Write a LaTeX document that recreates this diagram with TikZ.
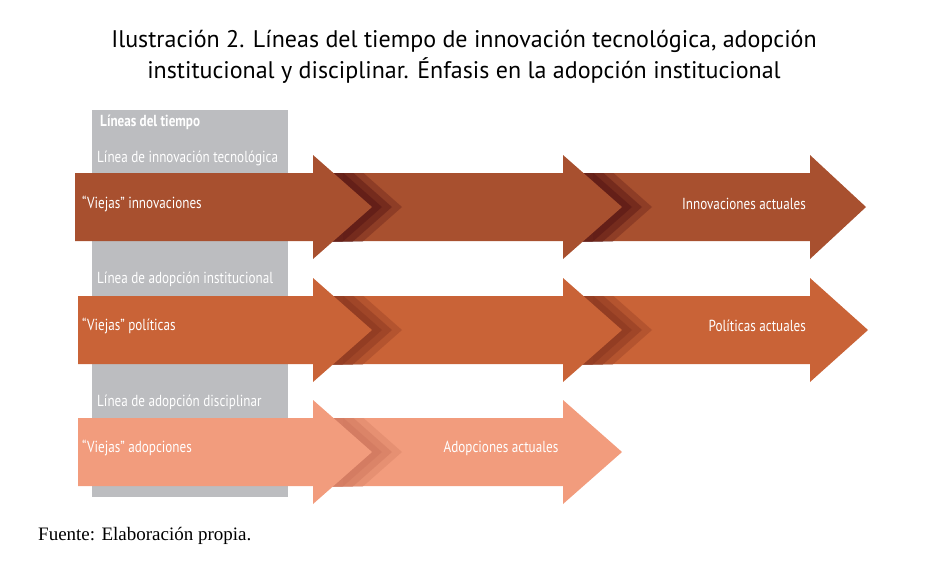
\documentclass[tikz,border=0pt]{standalone}
\usepackage{fontspec}
\setmainfont{PT Sans}
\newfontfamily\cond[FakeStretch=0.82]{PT Sans}
\newfontfamily\serifft{Liberation Serif}
\definecolor{cA}{HTML}{A8502F}
\definecolor{cAd}{HTML}{5E1B16}
\definecolor{cB}{HTML}{C96337}
\definecolor{cBd}{HTML}{8E3A22}
\definecolor{cC}{HTML}{F29C7D}
\definecolor{cCd}{HTML}{D27A60}
\definecolor{gr}{HTML}{BCBDC0}
\tikzset{lbl/.style={font=\cond\fontsize{16}{18}\selectfont, text=white, inner sep=0pt},
 glbl/.style={lbl, anchor=west}}
\newcommand\arr[6]{% x0, hx, tip, yc, color, name
 \fill[#5] (#1,#4-34) -- (#2,#4-34) -- (#2,#4-52) -- (#3,#4) -- (#2,#4+52) -- (#2,#4+34) -- (#1,#4+34) -- cycle;}
\newcommand\shad[4]{% hx, tip, yc, color
 \begin{scope}
 \clip (#1,#3-34) rectangle (#2+60,#3+34);
 \foreach \d/\o in {30/0.35,20/0.5,10/0.7}{
 \fill[#4, opacity=\o] (#1+\d,#3-52) -- (#2+\d,#3) -- (#1+\d,#3+52) -- cycle;}
 \end{scope}}
\begin{document}
\begin{tikzpicture}[x=1pt,y=-1pt]
\useasboundingbox (0,0) rectangle (928,563);
\node (title) at (464,57) [align=center, font=\fontsize{24}{31}\selectfont] {Ilustración 2. Líneas del tiempo de innovación tecnológica, adopción\\institucional y disciplinar. Énfasis en la adopción institucional};
\fill[gr] (92,110) rectangle (288,497);
\node[glbl, font=\cond\bfseries\fontsize{16}{18}\selectfont] (lt) at (100,122) {Líneas del tiempo};
\node[glbl] (l1) at (97,158) {Línea de innovación tecnológica};
\node[glbl] (l2) at (97,279) {Línea de adopción institucional};
\node[glbl] (l3) at (97,402) {Línea de adopción disciplinar};
% row 1
\arr{563}{810}{866}{207}{cA}{}
\shad{563}{622}{207}{cAd}
\arr{313}{563}{622}{207}{cA}{}
\shad{313}{372}{207}{cAd}
\arr{75}{313}{372}{207}{cA}{}
% row 2
\arr{563}{810}{868}{330}{cB}{}
\shad{563}{622}{330}{cBd}
\arr{313}{563}{622}{330}{cB}{}
\shad{313}{372}{330}{cBd}
\arr{78}{313}{372}{330}{cB}{}
% row 3
\arr{313}{563}{622}{452}{cC}{}
\shad{313}{372}{452}{cCd}
\arr{78}{313}{372}{452}{cC}{}
\node[lbl, anchor=west] (v1) at (82,204) {“Viejas” innovaciones};
\node[lbl, anchor=east] (a1) at (806,204) {Innovaciones actuales};
\node[lbl, anchor=west] (v2) at (82,326) {“Viejas” políticas};
\node[lbl, anchor=east] (a2) at (806,326) {Políticas actuales};
\node[lbl, anchor=west] (v3) at (82,448) {“Viejas” adopciones};
\node[lbl] (a3) at (501,448) {Adopciones actuales};
\node[anchor=west, inner sep=0pt, font=\serifft\fontsize{19}{22}\selectfont] (src) at (38,536) {Fuente: Elaboración propia.};
\end{tikzpicture}
\end{document}
